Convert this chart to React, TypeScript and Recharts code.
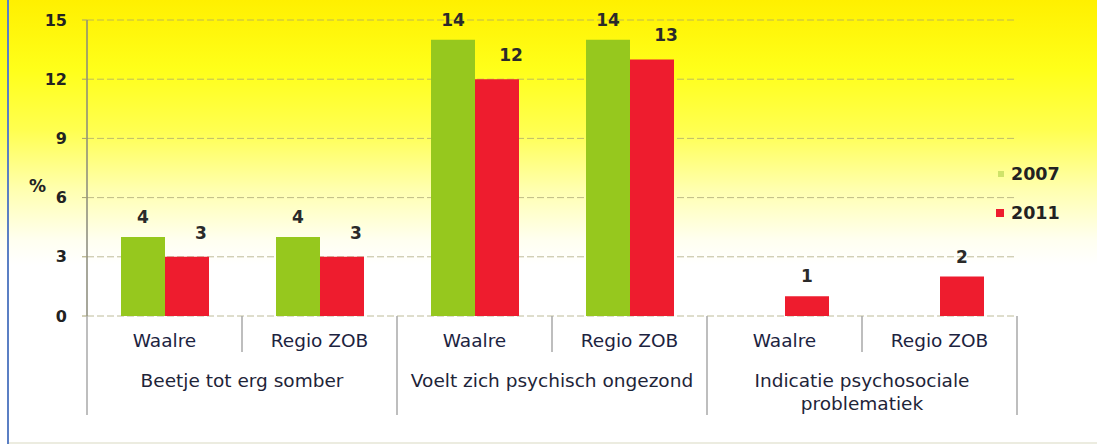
import React from 'react';
import { BarChart, Bar, XAxis, YAxis, CartesianGrid, LabelList, Legend } from 'recharts';

const categories = ['Waalre', 'Regio ZOB', 'Waalre', 'Regio ZOB', 'Waalre', 'Regio ZOB'];
const groups = [['Beetje tot erg somber'], ['Voelt zich psychisch ongezond'], ['Indicatie psychosociale', 'problematiek']];
const values2007: (number | null)[] = [4, 4, 14, 14, null, null];
const values2011: (number | null)[] = [3, 3, 12, 13, 1, 2];
const yTicks = [0, 3, 6, 9, 12, 15];
const seriesNames = ['2007', '2011'];

const GREEN = '#96c81e';
const RED = '#ee1c2e';
const FONT = '"DejaVu Sans", Verdana, sans-serif';

const data = categories.map((c, i) => ({
  key: i,
  sub: c,
  v2007: values2007[i],
  v2011: values2011[i],
}));

function XTick(props: any) {
  const { x, y, payload, index } = props;
  const half = payload && typeof payload.offset === 'number' && payload.offset > 0 ? payload.offset : 77.5;
  const i = typeof index === 'number' ? index : payload.value;
  const row = data[i];
  const lineColor = '#a8a8a8';
  const g = groups[Math.floor(i / 2)];
  return (
    <g>
      <text x={x} y={y + 31} textAnchor="middle" fontFamily={FONT} fontSize={18.5} fill="#1c2340">
        {row ? row.sub : ''}
      </text>
      {i % 2 === 0 ? (
        <line x1={x - half} y1={y} x2={x - half} y2={y + 99} stroke={lineColor} strokeWidth={1.5} />
      ) : (
        <line x1={x - half} y1={y} x2={x - half} y2={y + 36} stroke={lineColor} strokeWidth={1.5} />
      )}
      {i === categories.length - 1 && (
        <line x1={x + half} y1={y} x2={x + half} y2={y + 99} stroke={lineColor} strokeWidth={1.5} />
      )}
      {i % 2 === 1 &&
        g.map((t, k) => (
          <text key={k} x={x - half} y={y + 71 + k * 23} textAnchor="middle" fontFamily={FONT} fontSize={18.5} fill="#1e2438">
            {t}
          </text>
        ))}
    </g>
  );
}

function LegendContent() {
  const colors = ['#cfe36a', RED];
  return (
    <div style={{ fontFamily: FONT }}>
      {seriesNames.map((n, k) => (
        <div key={n} style={{ display: 'flex', alignItems: 'center', height: 39 }}>
          <span
            style={{
              display: 'inline-block',
              width: k === 0 ? 6 : 8,
              height: k === 0 ? 6 : 8,
              background: colors[k],
              marginRight: 7,
              marginLeft: k === 0 ? 2 : 0,
            }}
          />
          <span style={{ fontSize: 17.5, fontWeight: 'bold', color: '#222' }}>{n}</span>
        </div>
      ))}
    </div>
  );
}

function makeLabel(shiftFirstGroups: boolean) {
  return function ValueLabel(props: any) {
    const { x, y, width, value, index } = props;
    if (value === null || value === undefined) return null;
    const shifted = shiftFirstGroups && index < 4;
    const cx = x + width / 2 + (shifted ? 14 : 0);
    const by = y - 14 - (shifted ? 4 : 0);
    return (
      <text x={cx} y={by} textAnchor="middle" fontFamily={FONT} fontSize={17} fontWeight="bold" fill="#2a2a2a">
        {value}
      </text>
    );
  };
}

export default function App() {
  return (
    <div
      style={{
        position: 'absolute',
        left: 0,
        top: 0,
        width: 1097,
        height: 448,
        background:
          'linear-gradient(to bottom, #fff000 0px, #ffff1a 70px, #ffff50 130px, #ffffb0 190px, #fffff0 240px, #ffffff 265px)',
      }}
    >
      <div style={{ position: 'absolute', left: 7, top: 0, width: 2, height: 444, background: '#5b7fc4' }} />
      <div style={{ position: 'absolute', left: 9, top: 442, width: 1088, height: 2, background: '#ecece0' }} />
      <div style={{ position: 'absolute', left: 0, top: 0 }}>
        <BarChart
          width={1097}
          height={448}
          data={data}
          margin={{ top: 20, right: 80, bottom: 32, left: 0 }}
          barGap={0}
        >
          <CartesianGrid vertical={false} stroke="#a4a070" strokeDasharray="7 3" strokeOpacity={0.7} />
          <XAxis
            dataKey="key"
            type="category"
            height={100}
            axisLine={false}
            tickLine={false}
            tickSize={0}
            tickMargin={0}
            interval={0}
            tick={<XTick />}
          />
          <YAxis
            width={87}
            domain={[0, 15]}
            ticks={yTicks}
            interval={0}
            axisLine={{ stroke: '#8a8a7a', strokeWidth: 1.5 }}
            tickLine={{ stroke: '#a4a070' }}
            tickSize={5}
            tickMargin={15}
            tick={{ fontFamily: FONT, fontSize: 16, fontWeight: 'bold', fill: '#222' }}
            label={{
              value: '%',
              position: 'insideLeft',
              dx: 24,
              dy: 18,
              style: { fontFamily: FONT, fontSize: 17, fontWeight: 'bold', fill: '#222' },
            }}
          />
          <Legend
            layout="vertical"
            align="center"
            verticalAlign="middle"
            content={<LegendContent />}
            wrapperStyle={{ position: 'absolute', left: 996, top: 154, width: 90, height: 80 }}
          />
          <Bar dataKey="v2007" name="2007" fill={GREEN} barSize={44} isAnimationActive={false}>
            <LabelList dataKey="v2007" content={makeLabel(false)} />
          </Bar>
          <Bar dataKey="v2011" name="2011" fill={RED} barSize={44} isAnimationActive={false}>
            <LabelList dataKey="v2011" content={makeLabel(true)} />
          </Bar>
        </BarChart>
      </div>
    </div>
  );
}
